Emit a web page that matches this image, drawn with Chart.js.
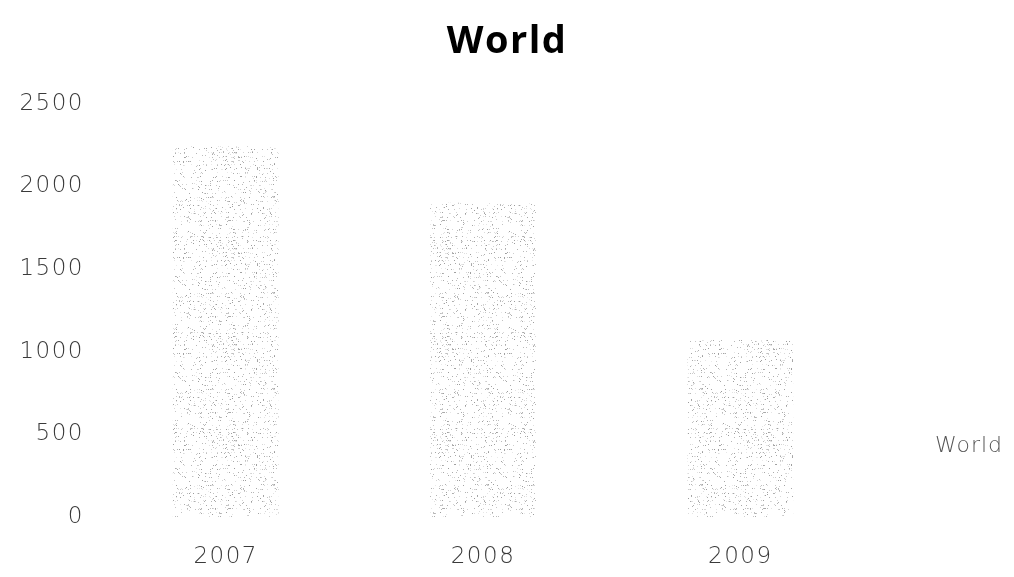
<!DOCTYPE html>
<html>
<head>
<meta charset="utf-8">
<style>
  html, body { margin: 0; padding: 0; background: #ffffff; }
  #wrap { width: 1014px; height: 577px; }
</style>
<script src="https://cdn.jsdelivr.net/npm/chart.js@4.4.1/dist/chart.umd.min.js"></script>
</head>
<body>
<div id="wrap"><canvas id="chart" width="1014" height="577"></canvas></div>
<script>
// Years on the category axis
const years = ['2007', '2008', '2009'];
// World totals per year
const worldValues = [2240, 1900, 1070];
// Value axis ticks
const yTicks = [0, 500, 1000, 1500, 2000, 2500];
const seriesName = 'World';

// Integer hash giving a fixed, evenly spread value in [0, 1)
function ihash(n) {
  n = (n ^ 61) ^ (n >>> 16);
  n = (n + (n << 3)) | 0;
  n = n ^ (n >>> 4);
  n = Math.imul(n, 0x27d4eb2d);
  n = n ^ (n >>> 15);
  return (n >>> 0) / 4294967296;
}

// Stippled grey fill for the bars
function stipplePattern() {
  const w = 107, h = 96;
  const c = document.createElement('canvas');
  c.width = w; c.height = h;
  const g = c.getContext('2d');
  g.fillStyle = '#ffffff';
  g.fillRect(0, 0, w, h);
  for (let y = 0; y < h; y++) {
    // dots cluster in loose horizontal streaks
    const rowDensity = (y % 4 === 0 || y % 4 === 1) ? 0.13 : 0.03;
    for (let x = 0; x < w; x++) {
      const k = y * w + x + 1;
      if (ihash(k) < rowDensity) {
        const shade = 155 + Math.floor(ihash(k * 7 + 104729) * 80);
        g.fillStyle = `rgb(${shade},${shade},${shade})`;
        g.fillRect(x, y, 1, 1);
      }
    }
  }
  return g.createPattern(c, 'repeat');
}

// Slightly widened lettering for all chart text
const widenText = {
  id: 'widenText',
  beforeUpdate(chart) { chart.ctx.letterSpacing = '1.5px'; },
  beforeDraw(chart) { chart.ctx.letterSpacing = '1.5px'; }
};

// Series name drawn at the right, in place of a legend key
const sideLegend = {
  id: 'sideLegend',
  afterDraw(chart) {
    const ctx = chart.ctx;
    ctx.save();
    ctx.font = '300 22px "DejaVu Sans"';
    ctx.fillStyle = '#555555';
    ctx.textAlign = 'left';
    ctx.textBaseline = 'middle';
    ctx.letterSpacing = '1px';
    ctx.fillText(chart.data.datasets[0].label, 935, 446);
    ctx.restore();
  }
};

const tickFont = { family: '"DejaVu Sans"', size: 23, weight: '300' };

const ctx = document.getElementById('chart').getContext('2d');
new Chart(ctx, {
  type: 'bar',
  data: {
    labels: years,
    datasets: [{
      label: seriesName,
      data: worldValues,
      backgroundColor: stipplePattern(),
      borderWidth: 0,
      categoryPercentage: 1.0,
      barPercentage: 0.41
    }]
  },
  options: {
    responsive: false,
    animation: false,
    layout: { padding: 0 },
    plugins: {
      legend: { display: false },
      tooltip: { enabled: false },
      title: {
        display: true,
        text: 'World',
        color: '#000000',
        font: { family: '"Open Sans"', size: 38, weight: 'bold' },
        padding: { top: 19, bottom: 39 }
      }
    },
    scales: {
      x: {
        grid: { display: false, drawTicks: false },
        border: { display: false },
        afterFit(scale) { scale.height = 60; },
        ticks: {
          color: '#3a3a3a',
          padding: 26,
          font: tickFont
        }
      },
      y: {
        min: 0,
        max: 2500,
        afterBuildTicks(axis) { axis.ticks = yTicks.map(v => ({ value: v })); },
        afterFit(scale) { scale.width = 97; },
        grid: { display: false, drawTicks: false },
        border: { display: false },
        ticks: {
          color: '#3a3a3a',
          padding: 13,
          font: tickFont,
          callback: (v) => String(v)
        }
      },
      // empty right-hand axis that reserves the space the series name sits in
      yRight: {
        position: 'right',
        display: true,
        afterFit(scale) { scale.width = 145; },
        grid: { display: false, drawTicks: false },
        border: { display: false },
        ticks: { display: false }
      }
    }
  },
  plugins: [widenText, sideLegend]
});
</script>
</body>
</html>
